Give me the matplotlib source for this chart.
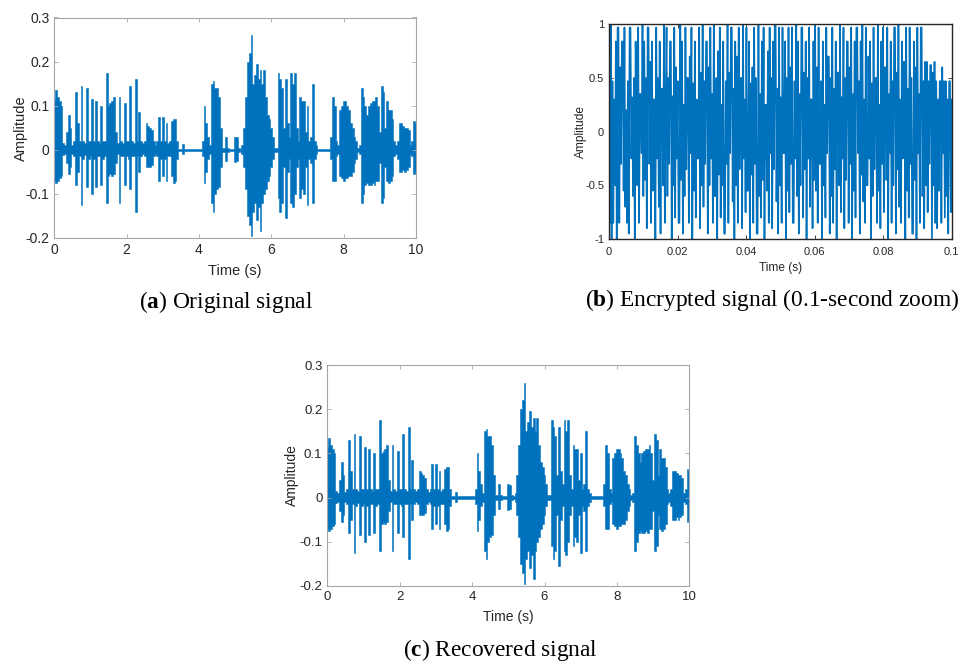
import numpy as np
import matplotlib
matplotlib.use("Agg")
import matplotlib.pyplot as plt

plt.rcParams["font.family"] = ["Liberation Sans", "DejaVu Sans"]
plt.rcParams["axes.unicode_minus"] = False
plt.rcParams["mathtext.fontset"] = "custom"
plt.rcParams["mathtext.rm"] = "Liberation Serif"
plt.rcParams["mathtext.bf"] = "Liberation Serif:bold"

LINE = "#0072BD"

# speech envelope, one pair every 0.05 s from 0 to 10 s
orig_upper = [
    0.115, 0.135, 0.12, 0.11, 0.10, 0.015, 0.01, 0.04, 0.08, 0.05,
    0.012, 0.02, 0.13, 0.06, 0.02, 0.145, 0.02, 0.015, 0.14, 0.02,
    0.02, 0.115, 0.02, 0.11, 0.02, 0.015, 0.10, 0.02, 0.02, 0.175,
    0.10, 0.105, 0.11, 0.12, 0.04, 0.015, 0.12, 0.02, 0.015, 0.105,
    0.02, 0.02, 0.145, 0.02, 0.015, 0.16, 0.02, 0.085, 0.02, 0.015,
    0.02, 0.06, 0.055, 0.05, 0.045, 0.02, 0.012, 0.02, 0.075, 0.02,
    0.075, 0.02, 0.06, 0.015, 0.02, 0.065, 0.07, 0.07, 0.02, 0.002,
    0.002, 0.013, 0.002, 0.002, 0.002, 0.002, 0.002, 0.002, 0.002, 0.002,
    0.002, 0.002, 0.02, 0.10, 0.06, 0.03, 0.01, 0.15, 0.155, 0.14,
    0.14, 0.12, 0.05, 0.005, 0.005, 0.03, 0.005, 0.002, 0.002, 0.002,
    0.03, 0.028, 0.005, 0.002, 0.01, 0.05, 0.12, 0.20, 0.22, 0.26,
    0.15, 0.17, 0.195, 0.16, 0.18, 0.15, 0.18, 0.12, 0.08, 0.07,
    0.05, 0.03, 0.005, 0.005, 0.175, 0.16, 0.14, 0.05, 0.16, 0.06,
    0.03, 0.175, 0.15, 0.175, 0.05, 0.02, 0.12, 0.11, 0.11, 0.04,
    0.10, 0.02, 0.03, 0.15, 0.02, 0.01, 0.002, 0.002, 0.002, 0.002,
    0.002, 0.002, 0.002, 0.03, 0.12, 0.10, 0.02, 0.01, 0.09, 0.10,
    0.11, 0.11, 0.10, 0.09, 0.06, 0.05, 0.03, 0.02, 0.005, 0.01,
    0.14, 0.12, 0.10, 0.08, 0.10, 0.105, 0.11, 0.11, 0.12, 0.10,
    0.04, 0.145, 0.13, 0.05, 0.11, 0.09, 0.09, 0.07, 0.02, 0.01,
    0.02, 0.06, 0.06, 0.055, 0.05, 0.05, 0.045, 0.01, 0.02, 0.065,
    0.06,
]
orig_lower = [
    -0.07, -0.075, -0.07, -0.065, -0.06, -0.012, -0.01, -0.03, -0.055, -0.04,
    -0.01, -0.015, -0.08, -0.05, -0.015, -0.125, -0.02, -0.012, -0.085, -0.02,
    -0.015, -0.10, -0.02, -0.085, -0.015, -0.015, -0.08, -0.02, -0.015, -0.12,
    -0.06, -0.055, -0.06, -0.055, -0.03, -0.01, -0.12, -0.015, -0.015, -0.08,
    -0.015, -0.02, -0.09, -0.015, -0.015, -0.14, -0.015, -0.05, -0.015, -0.01,
    -0.015, -0.04, -0.04, -0.04, -0.035, -0.015, -0.01, -0.015, -0.07, -0.02,
    -0.06, -0.02, -0.07, -0.015, -0.015, -0.06, -0.075, -0.07, -0.02, -0.002,
    -0.002, -0.01, -0.002, -0.002, -0.002, -0.002, -0.002, -0.002, -0.002, -0.002,
    -0.002, -0.002, -0.015, -0.075, -0.05, -0.02, -0.01, -0.12, -0.14, -0.10,
    -0.09, -0.085, -0.04, -0.005, -0.005, -0.025, -0.005, -0.002, -0.002, -0.002,
    -0.028, -0.025, -0.005, -0.002, -0.01, -0.04, -0.09, -0.15, -0.17, -0.195,
    -0.14, -0.12, -0.16, -0.13, -0.185, -0.12, -0.10, -0.09, -0.07, -0.06,
    -0.04, -0.02, -0.005, -0.005, -0.11, -0.14, -0.12, -0.04, -0.155, -0.05,
    -0.02, -0.12, -0.13, -0.10, -0.04, -0.02, -0.11, -0.09, -0.10, -0.04,
    -0.125, -0.02, -0.03, -0.12, -0.02, -0.01, -0.002, -0.002, -0.002, -0.002,
    -0.002, -0.002, -0.002, -0.02, -0.07, -0.07, -0.015, -0.01, -0.06, -0.065,
    -0.07, -0.065, -0.065, -0.06, -0.06, -0.05, -0.03, -0.02, -0.005, -0.01,
    -0.12, -0.10, -0.08, -0.075, -0.08, -0.08, -0.075, -0.08, -0.07, -0.07,
    -0.03, -0.12, -0.11, -0.04, -0.07, -0.075, -0.07, -0.06, -0.015, -0.01,
    -0.02, -0.05, -0.05, -0.045, -0.05, -0.045, -0.04, -0.01, -0.015, -0.055,
    -0.05,
]
# residual noise level left on the recovered signal (panel c)
recovered_floor = 0.003

# encrypted samples, first 0.1 s (panel b)
encrypted = [
    0.32, -0.85, 1.00, -1.00, 0.47, -0.85, 0.30, -0.50, 0.84, -1.00,
    0.97, 0.97, -0.85, 0.60, -0.30, 0.84, 0.84, -0.55, 0.97, -0.70,
    0.20, -0.85, 0.47, -0.95, 0.97, 0.97, -0.25, 0.32, -0.60, 0.50,
    -1.00, 0.84, 0.10, -0.50, 0.97, -0.85, 0.35, 0.35, -0.20, 1.00,
    -0.60, 0.84, -0.45, 0.50, -0.90, 0.97, 0.97, -0.30, 0.65, -0.85,
    0.84, -0.55, 0.30, 0.30, -1.00, 0.97, -0.25, 0.50, -0.70, 0.84,
    -0.95, 0.40, 0.40, -0.50, 1.00, -0.85, 0.20, 0.97, -0.60, 0.50,
    -0.30, 0.84, 0.84, -1.00, 0.33, -0.50, 0.97, -0.80, 0.60, -0.25,
    0.47, -0.85, -0.85, 1.00, -0.45, 0.84, -0.95, 0.25, -0.60, 0.97,
    -0.35, 0.50, 0.50, -0.85, 0.70, -0.20, 0.97, -1.00, 0.45, -0.55,
    0.84, -0.80, 0.30, -0.25, -0.25, 0.97, -0.90, 0.55, -0.50, 1.00,
    -0.70, 0.47, -0.30, 0.84, 0.84, -0.95, 0.60, -0.50, 0.97, -0.25,
    0.35, -0.85, 1.00, -0.60, -0.60, 0.50, -1.00, 0.75, -0.40, 0.97,
    -0.80, 0.25, -0.50, 0.84, -0.95, -0.95, 0.47, -0.30, 1.00, -0.85,
    0.55, -0.20, 0.97, 0.97, -0.65, 0.40, -1.00, 0.84, -0.50, 0.70,
    -0.85, 0.97, -0.35, 0.50, 0.50, -0.90, 1.00, -0.25, 0.30, -0.75,
    0.97, -0.55, -0.55, 0.84, -1.00, 0.45, -0.40, 0.60, -0.85, 0.97,
    -0.30, 0.50, -0.95, -0.95, 1.00, -0.60, 0.35, -0.80, 0.84, -0.45,
    0.97, -1.00, 0.25, 0.25, -0.55, 0.75, -0.85, 0.97, -0.20, 0.50,
    -0.90, 0.84, -0.35, 1.00, 1.00, -0.65, 0.40, -0.95, 0.97, -0.50,
    0.32, -0.85, 0.97, -0.20, -0.20, 0.84, -1.00, 0.50, -0.55, 0.97,
    -0.75, 0.60, -0.30, 0.97, -0.85, -0.85, 0.47, -0.25, 1.00, -0.60,
    0.84, -0.95, 0.35, -0.50, 0.97, 0.97, -0.80, 0.55, -0.35, 0.84,
    -1.00, 0.50, -0.25, 0.97, -0.70, 0.30, 0.30, -0.90, 0.84, -0.45,
    1.00, -0.55, 0.60, -0.85, 0.97, -0.30, -0.30, 0.47, -1.00, 0.84,
    -0.50, 0.25, -0.80, 0.97, -0.20, 0.70, 0.70, -0.95, 0.50, -0.60,
    0.97, -0.85, 0.40, -0.35, 0.84, -1.00, 0.55, 0.55, -0.50, 1.00,
    -0.75, 0.32, -0.25, 0.97, -0.90, 0.50, -0.45, 0.84, 0.84, -0.85,
    0.60, -0.30, 0.97, -1.00, 0.35, -0.55, 0.84, -0.80, 0.97, 0.97,
    -0.20, 0.47, -0.95, 0.84, -0.40, 1.00, -0.65, 0.30, -0.85, 0.97,
    -0.50, -0.50, 0.70, -0.25, 0.84, -1.00, 0.45, -0.60, 0.97, -0.35,
    0.50, 0.50, -0.85, 1.00, -0.55, 0.25, -0.90, 0.84, -0.30, 0.97,
    -0.75, 0.60, 0.60, -0.45, 0.97, -1.00, 0.35, -0.20, 0.84, -0.85,
    0.47, -0.50, 0.97, 0.97, -0.95, 0.55, -0.35, 1.00, -0.70, 0.30,
    -0.85, 0.84, -0.25, 0.65, 0.65, -1.00, 0.97, -0.55, 0.40, -0.80,
    0.97, -0.30, 0.50, -0.95, -0.95, 0.84, -0.45, 0.60, -1.00, 0.97,
    -0.20, 0.35, -0.85, 0.97, 0.97, -0.60, 0.47, -0.90, 0.65, -0.50,
    0.65, -0.75, 0.47, -0.30, 0.62, 0.62, -1.00, 0.55, -0.50, 0.65,
    -0.85, 0.47, -0.90, 0.30, -0.55, 0.47, 0.47, -0.85, 0.60, -0.20,
    0.47, -0.80, 0.47, -0.60, 0.30, -0.95, 0.47, 0.47, -0.75, 0.30,
]

speech_xticks = [0, 2, 4, 6, 8, 10]
speech_yticks = [-0.2, -0.1, 0, 0.1, 0.2, 0.3]
speech_ylabels = ["-0.2", "-0.1", "0", "0.1", "0.2", "0.3"]
enc_xticks = [0, 0.02, 0.04, 0.06, 0.08, 0.1]
enc_xlabels = ["0", "0.02", "0.04", "0.06", "0.08", "0.1"]
enc_yticks = [-1, -0.5, 0, 0.5, 1]
enc_ylabels = ["-1", "-0.5", "0", "0.5", "1"]

captions = [
    r"($\mathbf{a}$) Original signal",
    r"($\mathbf{b}$) Encrypted signal (0.1-second zoom)",
    r"($\mathbf{c}$) Recovered signal",
]


def style_axes(ax, edge, size, width, pad=3.5):
    for s in ax.spines.values():
        s.set_color(edge)
        s.set_linewidth(width)
    ax.tick_params(direction="in", top=True, right=True, length=2.7,
                   width=0.6, color=edge, labelcolor="#262626",
                   labelsize=size, pad=pad)


def draw_envelope(ax, t, upper, lower):
    # solid stepped band, one step per envelope sample
    ax.fill_between(t, lower, upper, step="mid", color=LINE, lw=0.4)


fig = plt.figure(figsize=(9.6, 6.64), dpi=100)
W, H = 960, 664


def add_axes(x0, y0, x1, y1):
    return fig.add_axes([x0 / W, 1 - y1 / H, (x1 - x0) / W, (y1 - y0) / H])


t_env = np.linspace(0, 10, len(orig_upper))
up = np.array(orig_upper)
lo = np.array(orig_lower)

# (a)
ax_a = add_axes(54.3, 17.5, 416, 238)
draw_envelope(ax_a, t_env, up, lo)
ax_a.set_xlim(0, 10)
ax_a.set_ylim(-0.2, 0.3)
ax_a.set_xticks(speech_xticks)
ax_a.set_yticks(speech_yticks)
ax_a.set_yticklabels(speech_ylabels)
style_axes(ax_a, "#a6a6a6", 10, 0.8)
ax_a.set_xlabel("Time (s)", fontsize=10.5, color="#262626", labelpad=5)
ax_a.set_ylabel("Amplitude", fontsize=10.5, color="#262626", labelpad=-1.5)

# (b)
ax_b = add_axes(609, 24.3, 951.7, 239)
t_enc = np.linspace(0, 0.1, len(encrypted))
ax_b.plot(t_enc, encrypted, color=LINE, lw=1.2)
ax_b.set_xlim(0, 0.1)
ax_b.set_ylim(-1, 1)
ax_b.set_xticks(enc_xticks)
ax_b.set_xticklabels(enc_xlabels)
ax_b.set_yticks(enc_yticks)
ax_b.set_yticklabels(enc_ylabels)
style_axes(ax_b, "#262626", 8, 1.0)
ax_b.tick_params(axis="x", pad=6)
ax_b.set_xlabel("Time (s)", fontsize=8.6, color="#262626", labelpad=3)
ax_b.set_ylabel("Amplitude", fontsize=8.6, color="#262626", labelpad=-1)

# (c)
ax_c = add_axes(327.3, 365, 689.3, 586)
draw_envelope(ax_c, t_env, np.maximum(up, recovered_floor),
              np.minimum(lo, -recovered_floor))
ax_c.set_xlim(0, 10)
ax_c.set_ylim(-0.2, 0.3)
ax_c.set_xticks(speech_xticks)
ax_c.set_yticks(speech_yticks)
ax_c.set_yticklabels(speech_ylabels)
style_axes(ax_c, "#a6a6a6", 9.5, 0.8)
ax_c.set_xlabel("Time (s)", fontsize=10, color="#262626", labelpad=5)
ax_c.set_ylabel("Amplitude", fontsize=10, color="#262626", labelpad=0)

cap_pos = [(226, 302), (772, 300), (500, 650)]
for text, (cx, cy) in zip(captions, cap_pos):
    fig.text(cx / W, 1 - cy / H, text, ha="center", va="center",
             family="Liberation Serif", fontsize=16.8, color="black")

fig.savefig("out.png", dpi=100)
